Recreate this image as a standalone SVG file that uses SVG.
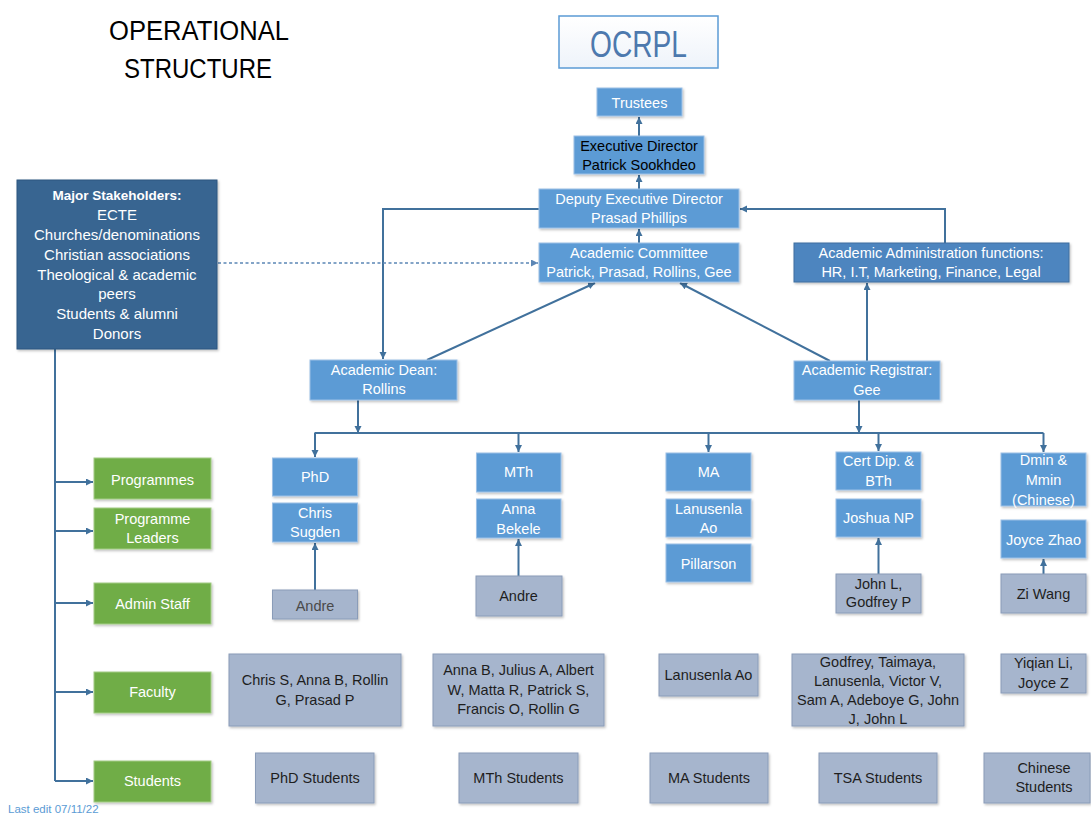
<svg xmlns="http://www.w3.org/2000/svg" width="1091" height="815" viewBox="0 0 1091 815">
<style>
text{font-family:"Liberation Sans",Arial,sans-serif;font-size:14.5px;text-anchor:middle}
.blue rect{fill:#5b9bd5;stroke:#9cc0e6;stroke-width:1}
.blue text{fill:#ffffff}
.grey rect{fill:#a6b5cd;stroke:#8a9cb8;stroke-width:1}
.grey text{fill:#1e1e1e}
.green rect{fill:#70ad47;stroke:#a3cc86;stroke-width:1}
.green text{fill:#ffffff}
.dark rect{fill:#396591;stroke:#2f5680;stroke-width:1}
.dark text{fill:#ffffff;font-size:15px}
.conn path{fill:none;stroke:#41719c;stroke-width:2}
.conn .dash{stroke:#5b86b5;stroke-width:1.6;stroke-dasharray:3 2.5}
.title{font-size:27px;fill:#000}
</style>
<defs>
<filter id="sh" x="-10%" y="-10%" width="130%" height="140%">
<feDropShadow dx="1.2" dy="1.5" stdDeviation="0.8" flood-color="#000" flood-opacity="0.25"/>
</filter>
<linearGradient id="og" x1="0" y1="0" x2="0" y2="1">
<stop offset="0" stop-color="#ffffff"/>
<stop offset="1" stop-color="#eef3fa"/>
</linearGradient>
<marker id="ar" markerWidth="8" markerHeight="8" refX="7" refY="3.5" orient="auto" markerUnits="userSpaceOnUse">
<path d="M0,0 L7,3.5 L0,7 z" fill="#41719c"/>
</marker>
<marker id="ard" markerWidth="8" markerHeight="8" refX="7" refY="3.5" orient="auto" markerUnits="userSpaceOnUse">
<path d="M0,0 L7,3.5 L0,7 z" fill="#5b86b5"/>
</marker>
</defs>
<rect width="1091" height="815" fill="#ffffff"/>

<g id="title">
<text class="title" x="199" y="40" textLength="180" lengthAdjust="spacingAndGlyphs">OPERATIONAL</text>
<text class="title" x="198" y="78" textLength="148" lengthAdjust="spacingAndGlyphs">STRUCTURE</text>
</g>

<g id="ocrpl">
<rect x="559" y="16" width="159" height="52" fill="url(#og)" stroke="#5b9bd5" stroke-width="1.5"/>
<text x="638.5" y="57" style="font-size:36px;fill:#4d79ae" textLength="97" lengthAdjust="spacingAndGlyphs">OCRPL</text>
</g>

<g id="connectors" class="conn">
<path d="M639,136 V117" marker-end="url(#ar)"/>
<path d="M639,189 V175" marker-end="url(#ar)"/>
<path d="M639,243 V229" marker-end="url(#ar)"/>
<path d="M539,209 H383 V359" marker-end="url(#ar)"/>
<path d="M945,243 V209 H740" marker-end="url(#ar)"/>
<path class="dash" d="M218,263 H538" marker-end="url(#ard)"/>
<path d="M427,360 L595,283" marker-end="url(#ar)"/>
<path d="M830,361 L680,283" marker-end="url(#ar)"/>
<path d="M867,361 V283" marker-end="url(#ar)"/>
<path d="M358,400 V433" marker-end="url(#ar)"/>
<path d="M859,400 V433" marker-end="url(#ar)"/>
<path d="M314.5,433 H1043.5"/>
<path d="M315,433 V457" marker-end="url(#ar)"/>
<path d="M518.5,433 V452" marker-end="url(#ar)"/>
<path d="M708.5,433 V452" marker-end="url(#ar)"/>
<path d="M878.5,433 V451" marker-end="url(#ar)"/>
<path d="M1043.5,433 V452" marker-end="url(#ar)"/>
<path d="M315,590 V543" marker-end="url(#ar)"/>
<path d="M518.5,576 V539" marker-end="url(#ar)"/>
<path d="M878.5,574 V538" marker-end="url(#ar)"/>
<path d="M1043.5,574 V559" marker-end="url(#ar)"/>
<path d="M55,349 V781"/>
<path d="M55,482 H93" marker-end="url(#ar)"/>
<path d="M55,531 H93" marker-end="url(#ar)"/>
<path d="M55,603 H93" marker-end="url(#ar)"/>
<path d="M55,692 H93" marker-end="url(#ar)"/>
<path d="M55,781 H93" marker-end="url(#ar)"/>
</g>

<g id="trustees" class="blue"><rect x="597" y="88" width="85" height="28" filter="url(#sh)"/><text x="639.5" y="108">Trustees</text></g>
<g id="exec" class="blue"><rect x="574" y="136" width="130" height="38" filter="url(#sh)"/><text x="639" y="151" style="fill:#000">Executive Director</text><text x="639" y="170" style="fill:#000">Patrick Sookhdeo</text></g>
<g id="deputy" class="blue"><rect x="539" y="189" width="200" height="39" filter="url(#sh)"/><text x="639" y="204">Deputy Executive Director</text><text x="639" y="223">Prasad Phillips</text></g>
<g id="committee" class="blue"><rect x="539" y="243" width="200" height="39" filter="url(#sh)"/><text x="639" y="258">Academic Committee</text><text x="639" y="277">Patrick, Prasad, Rollins, Gee</text></g>
<g id="admin-functions" class="blue"><rect x="794" y="243" width="275" height="39" style="fill:#4e85bf;stroke:#3e6f9f" filter="url(#sh)"/><text x="931" y="258">Academic Administration functions:</text><text x="931" y="277">HR, I.T, Marketing, Finance, Legal</text></g>

<g id="stakeholders" class="dark"><rect x="17" y="180" width="200" height="169" filter="url(#sh)"/>
<text x="117" y="200" style="font-weight:bold;font-size:13.5px">Major Stakeholders:</text>
<text x="117" y="220">ECTE</text>
<text x="117" y="240">Churches/denominations</text>
<text x="117" y="260">Christian associations</text>
<text x="117" y="280">Theological &amp; academic</text>
<text x="117" y="299">peers</text>
<text x="117" y="319">Students &amp; alumni</text>
<text x="117" y="339">Donors</text>
</g>

<g id="dean" class="blue"><rect x="310" y="360" width="147" height="40" filter="url(#sh)"/><text x="384" y="375">Academic Dean:</text><text x="384" y="394">Rollins</text></g>
<g id="registrar" class="blue"><rect x="794" y="361" width="146" height="39" filter="url(#sh)"/><text x="867" y="375">Academic Registrar:</text><text x="867" y="395">Gee</text></g>

<g id="g-programmes" class="green"><rect x="94" y="458" width="117" height="41" filter="url(#sh)"/><text x="152.5" y="485">Programmes</text></g>
<g id="g-leaders" class="green"><rect x="94" y="508" width="117" height="41" filter="url(#sh)"/><text x="152.5" y="524">Programme</text><text x="152.5" y="543">Leaders</text></g>
<g id="g-admin" class="green"><rect x="94" y="583" width="117" height="41" filter="url(#sh)"/><text x="152.5" y="609">Admin Staff</text></g>
<g id="g-faculty" class="green"><rect x="94" y="672" width="117" height="41" filter="url(#sh)"/><text x="152.5" y="697">Faculty</text></g>
<g id="g-students" class="green"><rect x="94" y="761" width="117" height="41" filter="url(#sh)"/><text x="152.5" y="786">Students</text></g>

<g id="phd" class="blue"><rect x="272.5" y="458" width="85" height="38" filter="url(#sh)"/><text x="315" y="482">PhD</text></g>
<g id="phd-leader" class="blue"><rect x="272.5" y="503" width="85" height="39" filter="url(#sh)"/><text x="315" y="518">Chris</text><text x="315" y="537">Sugden</text></g>
<g id="phd-admin" class="grey"><rect x="272.5" y="590" width="85" height="29" filter="url(#sh)"/><text x="315" y="611" style="fill:#4a4a4a">Andre</text></g>

<g id="mth" class="blue"><rect x="476.5" y="453" width="84.5" height="39" filter="url(#sh)"/><text x="518.5" y="477">MTh</text></g>
<g id="mth-leader" class="blue"><rect x="476.5" y="499" width="84.5" height="39" filter="url(#sh)"/><text x="518.5" y="514">Anna</text><text x="518.5" y="534">Bekele</text></g>
<g id="mth-admin" class="grey"><rect x="476" y="576" width="86" height="40" filter="url(#sh)"/><text x="518.5" y="601">Andre</text></g>

<g id="ma" class="blue"><rect x="666" y="453" width="85" height="38" filter="url(#sh)"/><text x="708.5" y="477">MA</text></g>
<g id="ma-leader" class="blue"><rect x="666" y="499" width="85" height="38" filter="url(#sh)"/><text x="708.5" y="514">Lanusenla</text><text x="708.5" y="533">Ao</text></g>
<g id="ma-leader2" class="blue"><rect x="666" y="544" width="85" height="38" filter="url(#sh)"/><text x="708.5" y="569">Pillarson</text></g>

<g id="cert" class="blue"><rect x="836" y="452" width="85" height="38" filter="url(#sh)"/><text x="878.5" y="466">Cert Dip. &amp;</text><text x="878.5" y="486">BTh</text></g>
<g id="cert-leader" class="blue"><rect x="836" y="499" width="85" height="38" filter="url(#sh)"/><text x="878.5" y="523">Joshua NP</text></g>
<g id="cert-admin" class="grey"><rect x="836" y="574" width="85" height="39" filter="url(#sh)"/><text x="878.5" y="589">John L,</text><text x="878.5" y="607">Godfrey P</text></g>

<g id="dmin" class="blue"><rect x="1001" y="453" width="85" height="53" filter="url(#sh)"/><text x="1043.5" y="465">Dmin &amp;</text><text x="1043.5" y="485">Mmin</text><text x="1043.5" y="505">(Chinese)</text></g>
<g id="dmin-leader" class="blue"><rect x="1001" y="520" width="85" height="38" filter="url(#sh)"/><text x="1043.5" y="545">Joyce Zhao</text></g>
<g id="dmin-admin" class="grey"><rect x="1001" y="574" width="85" height="39" filter="url(#sh)"/><text x="1043.5" y="599">Zi Wang</text></g>

<g id="fac-phd" class="grey"><rect x="229" y="654" width="172" height="72" filter="url(#sh)"/><text x="315" y="685">Chris S, Anna B, Rollin</text><text x="315" y="705">G, Prasad P</text></g>
<g id="fac-mth" class="grey"><rect x="433" y="654" width="171" height="72" filter="url(#sh)"/><text x="518.5" y="675">Anna B, Julius A, Albert</text><text x="518.5" y="695">W, Matta R, Patrick S,</text><text x="518.5" y="714">Francis O, Rollin G</text></g>
<g id="fac-ma" class="grey"><rect x="659" y="654" width="99" height="42" filter="url(#sh)"/><text x="708.5" y="680">Lanusenla Ao</text></g>
<g id="fac-cert" class="grey"><rect x="792" y="654" width="172" height="72" filter="url(#sh)"/><text x="878" y="667">Godfrey, Taimaya,</text><text x="878" y="686">Lanusenla, Victor V,</text><text x="878" y="705">Sam A, Adeboye G, John</text><text x="878" y="724">J, John L</text></g>
<g id="fac-chinese" class="grey"><rect x="1001" y="654" width="85" height="39" filter="url(#sh)"/><text x="1043.5" y="668">Yiqian Li,</text><text x="1043.5" y="688">Joyce Z</text></g>

<g id="st-phd" class="grey"><rect x="255.5" y="753" width="118.5" height="50" filter="url(#sh)"/><text x="315" y="783">PhD Students</text></g>
<g id="st-mth" class="grey"><rect x="459" y="753" width="119" height="50" filter="url(#sh)"/><text x="518.5" y="783">MTh Students</text></g>
<g id="st-ma" class="grey"><rect x="650" y="753" width="118" height="50" filter="url(#sh)"/><text x="709" y="783">MA Students</text></g>
<g id="st-tsa" class="grey"><rect x="819" y="753" width="118" height="50" filter="url(#sh)"/><text x="878" y="783">TSA Students</text></g>
<g id="st-chinese" class="grey"><rect x="984" y="753" width="106" height="50" filter="url(#sh)"/><text x="1044" y="773">Chinese</text><text x="1044" y="792">Students</text></g>

<text x="8" y="813" style="text-anchor:start;font-size:11.5px;fill:#5b9bd5">Last edit 07/11/22</text>
</svg>
